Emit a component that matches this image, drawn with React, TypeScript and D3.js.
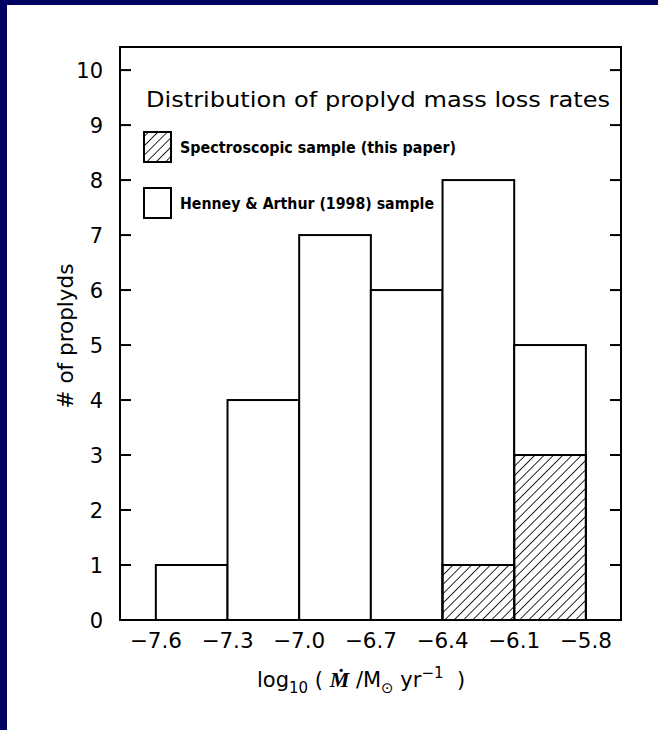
import React from "react";
import * as d3 from "d3";

const binEdges = [-7.6, -7.3, -7.0, -6.7, -6.4, -6.1, -5.8];
const totalCounts = [1, 4, 7, 6, 8, 5];
const spectroCounts = [0, 0, 0, 0, 1, 3];
const xTickValues = [-7.6, -7.3, -7.0, -6.7, -6.4, -6.1, -5.8];
const yTickValues = [0, 1, 2, 3, 4, 5, 6, 7, 8, 9, 10];
const titleText = "Distribution of proplyd mass loss rates";
const legendLabels = ["Spectroscopic sample (this paper)", "Henney & Arthur (1998) sample"];

const W = 658;
const H = 730;
const left = 120;
const right = 621;
const top = 47;
const bottom = 620;

export default function App() {
  const x = d3.scaleLinear().domain([-7.75, -5.653]).range([left, right]);
  const y = d3.scaleLinear().domain([0, 10.42]).range([bottom, top]);
  const font = "'DejaVu Sans', sans-serif";
  const fmt = (v: number) => (v < 0 ? "\u2212" : "") + Math.abs(v).toFixed(1);

  return (
    <svg width={W} height={H} style={{ position: "absolute", left: 0, top: 0 }}>
      <defs>
        <pattern id="hatch" patternUnits="userSpaceOnUse" width={6.6} height={10} patternTransform="rotate(45)">
          <line x1={0} y1={-1} x2={0} y2={11} stroke="#000" strokeWidth={1.7} />
        </pattern>
      </defs>
      <rect x={0} y={0} width={W} height={H} fill="#000060" />
      <rect x={7} y={5} width={W - 7} height={H - 5} fill="#fff" />

      {totalCounts.map((c, i) => (
        <rect key={"t" + i} x={x(binEdges[i])} y={y(c)} width={x(binEdges[i + 1]) - x(binEdges[i])}
          height={y(0) - y(c)} fill="#fff" stroke="#000" strokeWidth={2} />
      ))}
      {spectroCounts.map((c, i) => c > 0 ? (
        <rect key={"s" + i} x={x(binEdges[i])} y={y(c)} width={x(binEdges[i + 1]) - x(binEdges[i])}
          height={y(0) - y(c)} fill="url(#hatch)" stroke="#000" strokeWidth={2} />
      ) : null)}

      <rect x={left} y={top} width={right - left} height={bottom - top} fill="none" stroke="#000" strokeWidth={2} />

      {yTickValues.map((v) => (
        <g key={"y" + v}>
          <line x1={left} x2={left + 11} y1={y(v)} y2={y(v)} stroke="#000" strokeWidth={2} />
          <line x1={right - 11} x2={right} y1={y(v)} y2={y(v)} stroke="#000" strokeWidth={2} />
          <text x={103} y={y(v) + 7.5} textAnchor="end" fontFamily={font} fontSize={21}>{v}</text>
        </g>
      ))}

      {xTickValues.map((v) => (
        <text key={"x" + v} x={x(v)} y={648} textAnchor="middle" fontFamily={font} fontSize={21.5}>{fmt(v)}</text>
      ))}

      <text x={146} y={107} fontFamily={font} fontSize={20.5} textLength={464} lengthAdjust="spacingAndGlyphs">{titleText}</text>

      <rect x={144} y={132} width={27} height={30} fill="url(#hatch)" stroke="#000" strokeWidth={2} />
      <text x={180} y={153} fontFamily={font} fontSize={15} fontWeight="bold" textLength={276} lengthAdjust="spacingAndGlyphs">{legendLabels[0]}</text>
      <rect x={144} y={188} width={27} height={30} fill="#fff" stroke="#000" strokeWidth={2} />
      <text x={180} y={209} fontFamily={font} fontSize={15} fontWeight="bold" textLength={254} lengthAdjust="spacingAndGlyphs">{legendLabels[1]}</text>

      <text transform="translate(73,336) rotate(-90)" textAnchor="middle" fontFamily={font} fontSize={21.5}># of proplyds</text>

      <text x={257} y={687} fontFamily={font} fontSize={21}>
        log
        <tspan fontSize={15} dy={6}>10</tspan>
        <tspan dy={-6}>{"\u00A0( "}</tspan>
        <tspan fontFamily="'Liberation Serif', serif" fontStyle="italic" fontWeight="bold" fontSize={22}>{"\u1E40"}</tspan>
        <tspan>{"\u00A0/M"}</tspan>
        <tspan fontSize={15} dy={6}>{"\u2299"}</tspan>
        <tspan dy={-6}>{"\u00A0yr"}</tspan>
        <tspan fontSize={15} dy={-9}>{"\u22121"}</tspan>
        <tspan dy={9}>{"\u00A0\u00A0)"}</tspan>
      </text>
    </svg>
  );
}
